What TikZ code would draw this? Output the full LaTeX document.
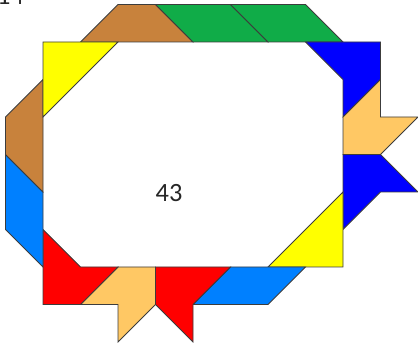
\documentclass[tikz,border=0pt]{standalone}
\usepackage{fontspec}
\setmainfont{Carlito}
\definecolor{tanbrown}{RGB}{200,130,60}
\definecolor{leafgreen}{RGB}{16,172,72}
\definecolor{skyblue}{RGB}{0,128,255}
\definecolor{deepblue}{RGB}{0,0,255}
\definecolor{sunyellow}{RGB}{255,255,0}
\definecolor{brightred}{RGB}{255,0,0}
\definecolor{paleorange}{RGB}{255,200,100}
\definecolor{edgegray}{RGB}{60,60,60}

\begin{document}
\begin{tikzpicture}[
piece/.style={draw=edgegray, line width=0.6pt, line join=miter},
number/.style={font=\fontsize{20}{24}\selectfont, text=black!85, inner sep=0pt}
]
\useasboundingbox (-1.147,-2.133) rectangle (10,7.12);
% top row
\draw[piece, fill=tanbrown] (1,6) -- (4,6) -- (3,7) -- (2,7) -- cycle;
\draw[piece, fill=leafgreen] (3,7) -- (5,7) -- (6,6) -- (4,6) -- cycle;
\draw[piece, fill=leafgreen] (5,7) -- (7,7) -- (8,6) -- (6,6) -- cycle;
% right side
\draw[piece, fill=deepblue] (7,6) -- (9,6) -- (9,5) -- (8,4) -- (8,5) -- cycle;
\draw[piece, fill=paleorange] (8,4) -- (9,5) -- (9,4) -- (10,4) -- (9,3) -- (8,3) -- cycle;
\draw[piece, fill=deepblue] (8,3) -- (9,3) -- (10,2) -- (9,2) -- (8,1) -- cycle;
\draw[piece, fill=sunyellow] (6,0) -- (8,0) -- (8,2) -- cycle;
% bottom row
\draw[piece, fill=skyblue] (4,-1) -- (5,0) -- (7,0) -- (6,-1) -- cycle;
\draw[piece, fill=brightred] (3,0) -- (5,0) -- (4,-1) -- (4,-2) -- (3,-1) -- cycle;
\draw[piece, fill=paleorange] (1,-1) -- (2,0) -- (3,0) -- (3,-1) -- (2,-2) -- (2,-1) -- cycle;
\draw[piece, fill=brightred] (0,1) -- (1,0) -- (2,0) -- (1,-1) -- (0,-1) -- cycle;
% left side
\draw[piece, fill=skyblue] (-1,3) -- (-1,1) -- (0,0) -- (0,2) -- cycle;
\draw[piece, fill=tanbrown] (0,5) -- (-1,4) -- (-1,3) -- (0,2) -- cycle;
\draw[piece, fill=sunyellow] (0,6) -- (2,6) -- (0,4) -- cycle;
% labels
\node[number] (area) at (3.36,1.97) {43};
\node[number, anchor=base west] (puzzle) at (-1.23,6.99) {14};
\end{tikzpicture}
\end{document}
